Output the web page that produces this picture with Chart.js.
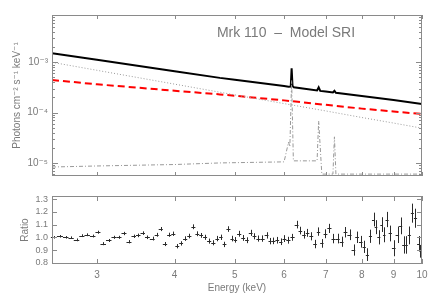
<!DOCTYPE html>
<html>
<head>
<meta charset="utf-8">
<script src="https://cdn.jsdelivr.net/npm/chart.js@4.4.1/dist/chart.umd.min.js"></script>
<style>
  html, body { margin: 0; padding: 0; background: #fff; }
  #wrap { position: relative; width: 436px; height: 294px; }
  canvas { position: absolute; left: 0; top: 0; }
</style>
</head>
<body>
<div id="wrap">
  <canvas id="modelChart" width="436" height="294"></canvas>
  <canvas id="ratioChart" width="436" height="294"></canvas>
</div>
<script>
// model components (energy in keV, flux in photons cm^-2 s^-1 keV^-1)
const totalE = [2.54, 3.0, 4.0, 4.73, 5.0, 6.0, 6.1, 6.15, 6.17, 6.19, 6.22, 6.78, 6.82, 6.86, 7.0, 7.19, 7.23, 7.27, 8.0, 9.0, 10.0];
const totalF = [1.52e-3, 1.12e-3, 6.65e-4, 4.9e-4, 4.5e-4, 3.37e-4, 3.28e-4, 3.3e-4, 7.6e-4, 3.4e-4, 3.2e-4, 2.76e-4, 3.18e-4, 2.7e-4, 2.62e-4, 2.51e-4, 2.7e-4, 2.47e-4, 2.14e-4, 1.78e-4, 1.48e-4];

const reflE = [2.54, 3.0, 4.0, 4.73, 6.0, 7.0, 8.0, 9.0, 10.0];
const reflF = [4.45e-4, 3.65e-4, 2.72e-4, 2.3e-4, 1.75e-4, 1.43e-4, 1.2e-4, 1.05e-4, 9.4e-5];

const powE = [2.54, 3.0, 4.0, 5.0, 6.0, 7.0, 8.0, 9.0, 10.0];
const powF = [1.0e-3, 6.93e-4, 3.68e-4, 2.25e-4, 1.51e-4, 1.08e-4, 8.0e-5, 6.2e-5, 4.9e-5];

const lineE = [2.54, 3.0, 4.0, 4.73, 6.0, 6.10, 6.13, 6.17, 6.21, 6.78, 6.82, 6.90, 7.19, 7.23, 7.27, 10.0];
const lineF = [8.3e-6, 8.7e-6, 9.3e-6, 1.0e-5, 1.05e-5, 2.6e-5, 2.1e-5, 4.4e-4, 1.1e-5, 1.1e-5, 6.8e-5, 6.0e-6, 6.0e-6, 3.3e-5, 6.0e-6, 6.0e-6];

// data / model ratio
const ratioE = [2.558, 2.616, 2.675, 2.725, 2.782, 2.838, 2.891, 2.956, 3.011, 3.068,
  3.137, 3.195, 3.255, 3.316, 3.378, 3.441, 3.493, 3.558, 3.611, 3.688,
  3.743, 3.799, 3.860, 3.922, 3.981, 4.041, 4.097, 4.158, 4.225, 4.288,
  4.352, 4.412, 4.478, 4.545, 4.618, 4.687, 4.747, 4.810, 4.883, 4.955,
  5.004, 5.079, 5.161, 5.226, 5.304, 5.375, 5.456, 5.538, 5.629, 5.698,
  5.768, 5.854, 5.929, 6.002, 6.098, 6.189, 6.291, 6.369, 6.463, 6.543,
  6.634, 6.733, 6.815, 6.902, 6.987, 7.099, 7.205, 7.313, 7.433, 7.525,
  7.646, 7.760, 7.859, 7.976, 8.074, 8.170, 8.260, 8.357, 8.430, 8.520,
  8.620, 8.690, 8.783, 8.891, 9.001, 9.135, 9.238, 9.348, 9.435, 9.541,
  9.650, 9.760, 9.880, 9.940];
const ratioV = [1.000, 1.008, 1.000, 0.997, 0.980, 1.013, 1.020, 1.010, 1.040, 0.950,
  0.975, 1.000, 1.000, 1.030, 0.965, 1.008, 1.015, 1.033, 1.000, 0.990,
  1.020, 1.065, 0.947, 1.020, 1.028, 0.930, 0.952, 0.990, 1.010, 1.083,
  1.028, 1.015, 1.000, 0.970, 0.957, 0.990, 1.000, 0.944, 1.065, 0.990,
  0.980, 1.028, 0.995, 0.977, 1.035, 1.008, 0.990, 0.990, 1.015, 0.970,
  0.972, 0.977, 0.965, 0.990, 0.977, 1.000, 1.100, 1.053, 1.020, 1.035,
  1.008, 0.947, 1.045, 0.952, 1.028, 1.070, 0.990, 0.990, 0.965, 1.040,
  1.020, 0.900, 1.000, 0.965, 0.925, 0.864, 1.008, 1.140, 1.080, 1.000,
  1.100, 1.020, 1.140, 1.030, 0.914, 1.020, 1.090, 0.940, 0.940, 1.015,
  1.190, 1.150, 0.950, 0.890];
const ratioErr = [0.010, 0.010, 0.010, 0.010, 0.011, 0.011, 0.011, 0.011, 0.012, 0.012,
  0.012, 0.012, 0.012, 0.013, 0.013, 0.013, 0.014, 0.014, 0.014, 0.015,
  0.015, 0.016, 0.016, 0.016, 0.017, 0.017, 0.017, 0.018, 0.018, 0.019,
  0.019, 0.019, 0.020, 0.020, 0.020, 0.021, 0.021, 0.021, 0.022, 0.022,
  0.022, 0.023, 0.023, 0.023, 0.024, 0.024, 0.024, 0.025, 0.025, 0.025,
  0.026, 0.026, 0.026, 0.027, 0.027, 0.027, 0.030, 0.030, 0.030, 0.031,
  0.032, 0.033, 0.033, 0.034, 0.035, 0.036, 0.037, 0.038, 0.040, 0.041,
  0.042, 0.044, 0.045, 0.046, 0.048, 0.050, 0.052, 0.054, 0.055, 0.056,
  0.058, 0.059, 0.060, 0.062, 0.063, 0.065, 0.066, 0.068, 0.069, 0.070,
  0.075, 0.075, 0.060, 0.050];

const energyTicks = [3, 4, 5, 6, 7, 8, 9, 10];
const fluxTicks = [1e-5, 1e-4, 1e-3];
const ratioTicks = [0.8, 0.9, 1.0, 1.1, 1.2, 1.3];

const TXT = '#7a7a7a';
const AXIS = '#8a8a8a';
const FONT = "'Liberation Sans', 'DejaVu Sans', sans-serif";

const supers = { '-': '\u207B', '1': '\u00B9', '2': '\u00B2', '3': '\u00B3', '4': '\u2074', '5': '\u2075' };
const decadeLabel = v => '10' + String(Math.round(Math.log10(v))).split('').map(c => supers[c]).join('');

const pts = (xs, ys) => xs.map((x, i) => ({ x: x, y: ys[i] }));

// frame + inward ticks like IDL plots
function frameTicks(xMajor, yMajor, yMinor, xLen, yLen) {
  return {
    id: 'frameTicks',
    afterDraw(chart) {
      const { ctx, chartArea: { top, bottom, left, right }, scales: { x, y } } = chart;
      ctx.save();
      ctx.strokeStyle = AXIS;
      ctx.lineWidth = 1;
      ctx.strokeRect(left + 0.5, top + 0.5, right - left - 1, bottom - top - 1);
      ctx.beginPath();
      xMajor.forEach(v => {
        const px = Math.round(x.getPixelForValue(v)) + 0.5;
        ctx.moveTo(px, bottom); ctx.lineTo(px, bottom - xLen);
        ctx.moveTo(px, top); ctx.lineTo(px, top + xLen);
      });
      yMajor.forEach(v => {
        const py = Math.round(y.getPixelForValue(v)) + 0.5;
        ctx.moveTo(left, py); ctx.lineTo(left + yLen, py);
        ctx.moveTo(right, py); ctx.lineTo(right - yLen, py);
      });
      yMinor.forEach(v => {
        const py = Math.round(y.getPixelForValue(v)) + 0.5;
        if (py < top || py > bottom) return;
        ctx.moveTo(left, py); ctx.lineTo(left + yLen / 2, py);
        ctx.moveTo(right, py); ctx.lineTo(right - yLen / 2, py);
      });
      ctx.stroke();
      ctx.restore();
    }
  };
}

const minorFlux = [];
[1e-6, 1e-5, 1e-4, 1e-3].forEach(d => [2, 3, 4, 5, 6, 7, 8, 9].forEach(m => minorFlux.push(d * m)));

// title and the decade labels of the flux axis
const textPlugin = {
  id: 'textPlugin',
  afterDraw(chart) {
    const { ctx, chartArea: { left }, scales: { y } } = chart;
    ctx.save();
    ctx.fillStyle = TXT;
    ctx.font = '14px ' + FONT;
    ctx.textAlign = 'center';
    ctx.textBaseline = 'alphabetic';
    ctx.fillText('Mrk 110  \u2013  Model SRI', 286, 37);
    ctx.font = '10px ' + FONT;
    ctx.textAlign = 'right';
    ctx.textBaseline = 'middle';
    fluxTicks.forEach(v => ctx.fillText(decadeLabel(v), left - 4, y.getPixelForValue(v)));
    ctx.restore();
  }
};

new Chart(document.getElementById('modelChart'), {
  type: 'line',
  data: {
    datasets: [
      { data: pts(lineE, lineF), borderColor: '#999', borderWidth: 1, borderDash: [4, 2, 1, 2], pointRadius: 0 },
      { data: pts(powE, powF), borderColor: '#999', borderWidth: 1, borderDash: [1, 2], pointRadius: 0 },
      { data: pts(reflE, reflF), borderColor: '#ff0000', borderWidth: 2, borderDash: [7, 4], pointRadius: 0 },
      { data: pts(totalE, totalF), borderColor: '#000', borderWidth: 2, pointRadius: 0 }
    ]
  },
  options: {
    responsive: false,
    animation: false,
    events: [],
    layout: { padding: { top: 15, right: 14, bottom: 118, left: 0 } },
    plugins: { legend: { display: false }, tooltip: { enabled: false } },
    scales: {
      x: { type: 'logarithmic', min: 2.54, max: 10, display: false },
      y: {
        type: 'logarithmic', min: 5.5e-6, max: 8.7e-3,
        afterBuildTicks: s => { s.ticks = fluxTicks.map(v => ({ value: v })); },
        afterFit: s => { s.width = 52; },
        grid: { display: false, drawTicks: false },
        border: { display: false },
        ticks: { display: false },
        title: {
          display: true, text: 'Photons cm\u207B\u00B2 s\u207B\u00B9 keV\u207B\u00B9',
          color: TXT, font: { family: FONT, size: 10 }, padding: { top: 11, bottom: 0 }
        }
      }
    }
  },
  plugins: [frameTicks(energyTicks, fluxTicks, minorFlux, 4, 6), textPlugin]
});

// cross-shaped error bars for the ratio points
const errorCross = {
  id: 'errorCross',
  afterDatasetsDraw(chart) {
    const { ctx, scales: { x, y } } = chart;
    ctx.save();
    ctx.strokeStyle = '#2a2a2a';
    ctx.lineWidth = 1;
    ctx.beginPath();
    ratioE.forEach((e, i) => {
      const prev = i > 0 ? ratioE[i - 1] : e * e / ratioE[i + 1];
      const next = i < ratioE.length - 1 ? ratioE[i + 1] : e * e / ratioE[i - 1];
      const lo = Math.sqrt(prev * e), hi = Math.sqrt(next * e);
      const py = Math.round(y.getPixelForValue(ratioV[i])) + 0.5;
      const px = Math.round(x.getPixelForValue(e)) + 0.5;
      ctx.moveTo(x.getPixelForValue(lo), py);
      ctx.lineTo(x.getPixelForValue(hi), py);
      ctx.moveTo(px, y.getPixelForValue(ratioV[i] - ratioErr[i]));
      ctx.lineTo(px, y.getPixelForValue(ratioV[i] + ratioErr[i]));
    });
    ctx.stroke();
    ctx.restore();
  }
};

new Chart(document.getElementById('ratioChart'), {
  type: 'scatter',
  data: { datasets: [{ data: pts(ratioE, ratioV), pointRadius: 0 }] },
  options: {
    responsive: false,
    animation: false,
    events: [],
    layout: { padding: { top: 196, right: 14, bottom: 0, left: 0 } },
    plugins: { legend: { display: false }, tooltip: { enabled: false } },
    scales: {
      x: {
        type: 'logarithmic', min: 2.54, max: 10,
        afterBuildTicks: s => { s.ticks = energyTicks.map(v => ({ value: v })); },
        afterFit: s => { s.height = 30; },
        grid: { display: false, drawTicks: false },
        border: { display: false },
        ticks: { color: TXT, font: { family: FONT, size: 10 }, padding: 5, maxRotation: 0, autoSkip: false, callback: v => String(v) },
        title: { display: true, text: 'Energy (keV)', color: TXT, font: { family: FONT, size: 10 }, padding: { top: 0, bottom: 0 } }
      },
      y: {
        type: 'linear', min: 0.79, max: 1.325,
        afterBuildTicks: s => { s.ticks = ratioTicks.map(v => ({ value: v })); },
        afterFit: s => { s.width = 52; },
        grid: { display: false, drawTicks: false },
        border: { display: false },
        ticks: { color: TXT, font: { family: FONT, size: 9 }, padding: 4, autoSkip: false, callback: v => v.toFixed(1) },
        title: { display: true, text: 'Ratio', color: TXT, font: { family: FONT, size: 10 }, padding: { top: 19, bottom: 0 } }
      }
    }
  },
  plugins: [frameTicks(energyTicks, ratioTicks, [], 5, 5), errorCross]
});
</script>
</body>
</html>
